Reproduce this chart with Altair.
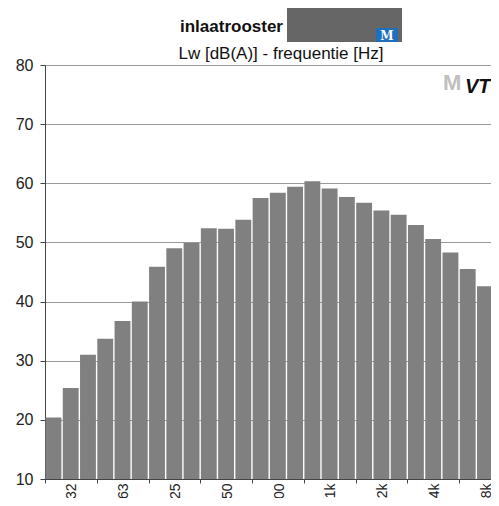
import altair as alt
import pandas as pd

# third-octave band centre frequencies (Hz)
freqs = ['25', '31.5', '40', '50', '63', '80', '100', '125', '160', '200', '250',
         '315', '400', '500', '630', '800', '1k', '1.25k', '1.6k', '2k', '2.5k',
         '3.15k', '4k', '5k', '6.3k', '8k', '10k']
# sound power level Lw [dB(A)]
lw = [20.4, 25.4, 31.0, 33.7, 36.7, 40.0, 45.9, 49.0, 49.9, 52.4, 52.3,
      53.85, 57.5, 58.4, 59.4, 60.35, 59.1, 57.7, 56.7, 55.4, 54.7,
      52.95, 50.6, 48.3, 45.5, 42.6, 38.2]
# axis tick labels (one per group of three bands)
tick_labels = ['32', '63', '125', '250', '500', '1k', '2k', '4k', '8k']
y_ticks = [10, 20, 30, 40, 50, 60, 70, 80]

FONT = 'Liberation Sans'
W, H = 446, 414
STEP = 17.26
VISIBLE = W / STEP

df = pd.DataFrame({'freq': freqs, 'lw': lw, 'idx': list(range(len(freqs)))})

label_arr = '[' + ','.join("'" + t + "'" for t in tick_labels) + ']'

xscale = alt.Scale(domain=[0, VISIBLE], nice=False, zero=False)
yscale = alt.Scale(domain=[10, 80], nice=False, zero=False)

bars = alt.Chart(df).transform_calculate(
    x0='datum.idx + 0.03', x1='datum.idx + 0.95'
).mark_rect(color='#808080', clip=True).encode(
    x=alt.X('x0:Q', scale=xscale,
            axis=alt.Axis(values=[0, 3, 6, 9, 12, 15, 18, 21, 24], grid=False,
                          domainColor='#444', tickColor='#444', tickSize=4,
                          labelAngle=270, labelAlign='right', labelBaseline='middle',
                          labelOffset=1.5 * STEP + 1, labelPadding=0,
                          labelFont=FONT, labelFontSize=14, labelColor='#222',
                          labelOverlap=False, labelFlush=False, labelBound=False,
                          labelExpr=label_arr + '[round(datum.value/3)]',
                          title=None)),
    x2='x1:Q',
    y=alt.Y('lw:Q', scale=yscale,
            axis=alt.Axis(values=y_ticks, grid=True, gridColor='#9a9a9a', gridWidth=1.2,
                          domainColor='#444', tickColor='#444', tickSize=5,
                          labelPadding=7, labelFont=FONT, labelFontSize=16,
                          labelColor='#222', title=None)),
    y2=alt.datum(10),
)

one = pd.DataFrame({'t': ['inlaatrooster']})

title = alt.Chart(one).mark_text(
    font=FONT, fontSize=17, fontWeight='bold', color='#111',
    align='right', baseline='alphabetic'
).encode(x=alt.value(238), y=alt.value(-33), text='t:N')

sub_df = pd.DataFrame({'t': ['Lw [dB(A)] - frequentie [Hz]']})
subtitle = alt.Chart(sub_df).mark_text(
    font=FONT, fontSize=17, color='#111', align='center', baseline='alphabetic'
).encode(x=alt.value(236), y=alt.value(-6.3), text='t:N')

gray_box = alt.Chart(one).mark_rect(color='#666666').encode(
    x=alt.value(242), x2=alt.value(357), y=alt.value(-61), y2=alt.value(-23))
blue_box = alt.Chart(one).mark_rect(color='#1f6fbf').encode(
    x=alt.value(331), x2=alt.value(353), y=alt.value(-37), y2=alt.value(-23))
m_df = pd.DataFrame({'t': ['M']})
m_text = alt.Chart(m_df).mark_text(
    font='DejaVu Serif', fontSize=12, fontWeight='bold', color='white',
    align='center', baseline='middle'
).encode(x=alt.value(342), y=alt.value(-29.5), text='t:N')

logo_g = alt.Chart(m_df).mark_text(
    font=FONT, fontSize=22, fontWeight='bold', color='#c0c0c0',
    align='left', baseline='middle'
).encode(x=alt.value(398), y=alt.value(18), text='t:N')
logo_k_df = pd.DataFrame({'t': ['VT']})
logo_k = alt.Chart(logo_k_df).mark_text(
    font=FONT, fontSize=20, fontWeight='bold', color='#111',
    align='left', baseline='middle', fontStyle='italic'
).encode(x=alt.value(420), y=alt.value(22), text='t:N')

chart = alt.layer(bars, title, subtitle, gray_box, blue_box, m_text, logo_g, logo_k).properties(
    width=W, height=H,
    autosize=alt.AutoSizeParams(type='none'),
    padding={'left': 37, 'top': 57, 'right': 0, 'bottom': 19},
).configure_view(stroke=None)

chart.save('out.html', embed_options={'renderer': 'svg', 'actions': False})
